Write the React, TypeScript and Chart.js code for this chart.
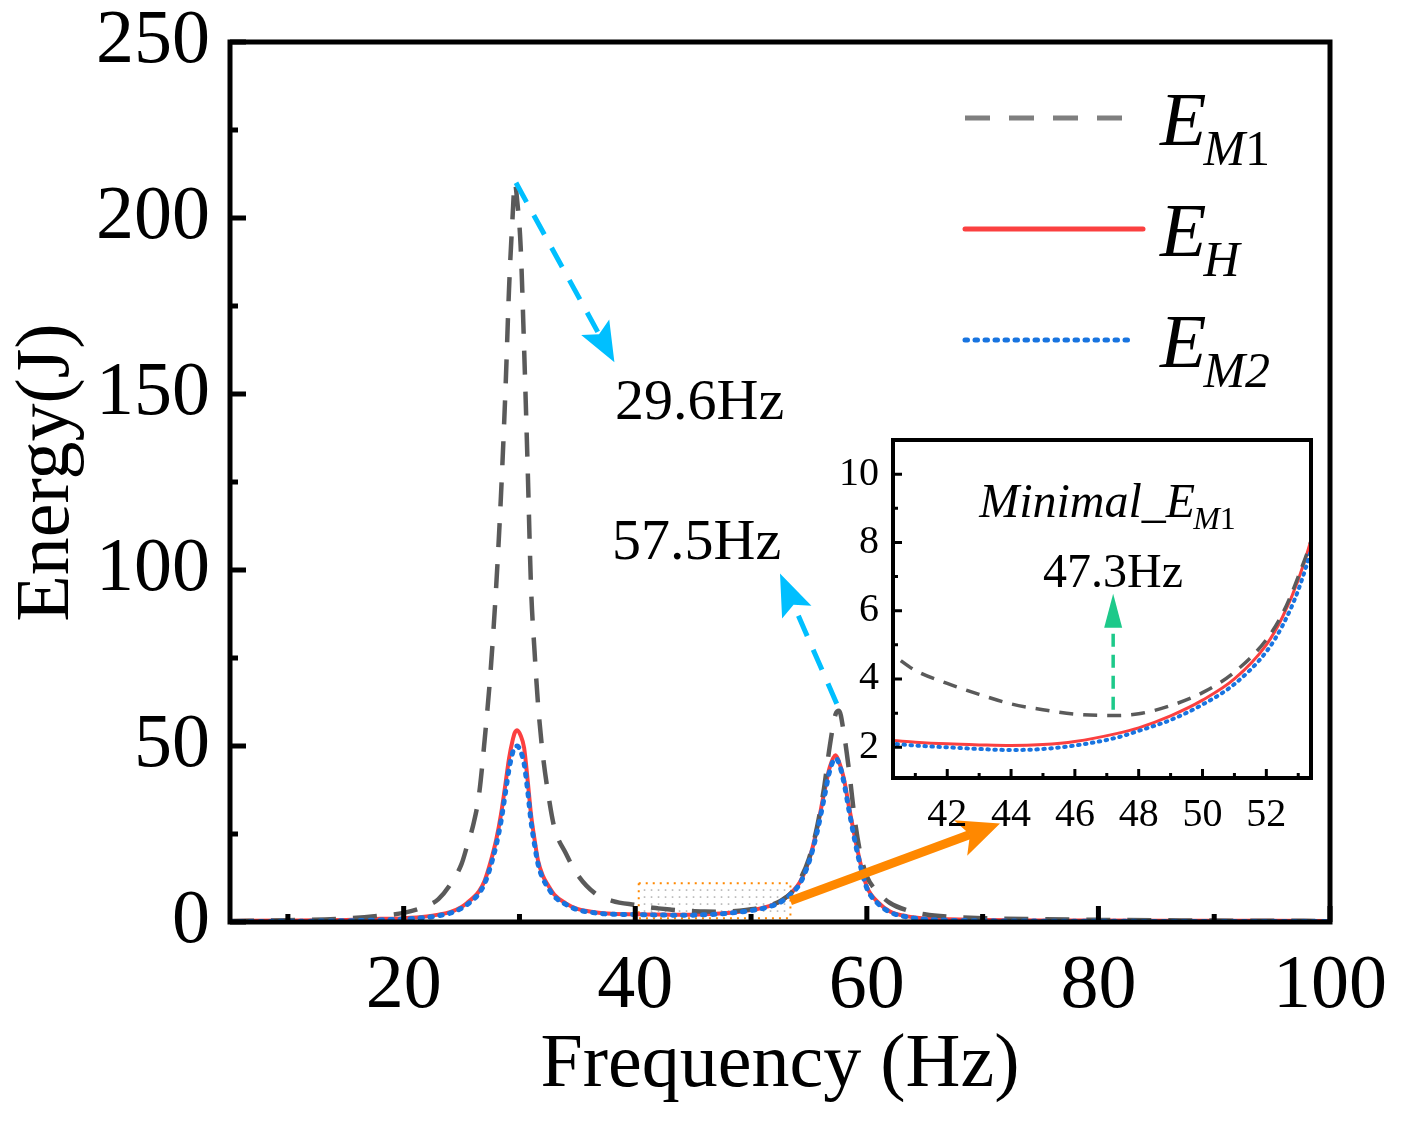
import React, { useEffect, useRef } from "react";
import { Chart, registerables } from "chart.js";

Chart.register(...registerables);

const SERIF = "'Liberation Serif', 'Times New Roman', serif";

// ---------------- data ----------------
const FREQ = [
  5, 10, 15, 18, 20,
  22, 23, 24, 25, 25.5,
  26, 26.5, 27, 27.5, 28,
  28.4, 28.8, 29.1, 29.4, 29.6,
  29.8, 30.1, 30.4, 30.7, 31.0,
  31.3, 31.6, 32, 32.5, 33,
  34, 35, 36.5, 38, 40.3,
  41, 42, 43, 44, 45,
  46, 47.3, 48, 49, 50,
  51, 52, 52.5, 53, 53.5,
  54.2, 55, 55.7, 56.3, 56.8,
  57.3, 57.6, 58, 58.5, 59,
  59.5, 60, 61, 62, 63.5,
  65, 67, 70, 75, 80,
  90, 100,
];

const E_M1 = [
  0.3, 0.5, 1.0, 1.8, 2.6,
  4.6, 6.5, 10.5, 16.5, 21.9,
  27.5, 36, 52, 71, 96,
  121, 152, 180, 200, 210,
  205, 192, 163, 130, 95,
  77, 62, 48, 36, 27,
  19.5, 13.5, 8.2, 6.0, 4.7,
  4.25, 3.87, 3.55, 3.27, 3.1,
  2.97, 2.93, 2.98, 3.22, 3.6,
  4.2, 5.15, 5.9, 7.0, 8.4,
  11.9, 18, 27, 38, 50,
  59, 60, 54, 42, 28,
  18.6, 13, 8.3, 5.4, 3.3,
  2.2, 1.5, 1.1, 0.8, 0.6,
  0.4, 0.3,
];

const E_H = [
  0.3, 0.4, 0.6, 0.9, 1.1,
  1.6, 2.1, 2.8, 4.3, 5.5,
  6.9, 8.7, 11.8, 17, 23.5,
  30.5, 39.5, 46.5, 51.5, 53.8,
  54.5, 53, 49.5, 40.5, 30.5,
  23.5, 17.5, 13.3, 10.3, 7.8,
  5.3, 3.7, 2.8, 2.35, 2.2,
  2.15, 2.1, 2.07, 2.05, 2.08,
  2.17, 2.4, 2.57, 2.92, 3.38,
  4.0, 5.0, 5.8, 6.9, 8.4,
  11.2, 17.5, 26.5, 36.5, 44,
  47.4, 45.5, 41, 32, 23.5,
  16, 10, 5.5, 3.0, 1.6,
  1.0, 0.75, 0.6, 0.45, 0.4,
  0.35, 0.3,
];

const E_M2 = [
  0.15, 0.2, 0.35, 0.6, 0.85,
  1.3, 1.8, 2.5, 3.9, 5.0,
  6.3, 8.1, 11.0, 15.8, 22,
  28.5, 37, 43.5, 48, 49.8,
  50, 48.5, 45, 37.5, 28.5,
  22, 16.5, 12.5, 9.6, 7.3,
  5.0, 3.5, 2.6, 2.2, 2.1,
  2.05, 2.0, 1.95, 1.92, 1.95,
  2.05, 2.28, 2.48, 2.8, 3.25,
  3.85, 4.8, 5.55, 6.6, 8.1,
  10.8, 17, 25.5, 35, 43,
  46.5, 45, 40, 31, 22.5,
  15.2, 9.6, 5.1, 2.8, 1.4,
  0.8, 0.5, 0.35, 0.25, 0.2,
  0.15, 0.15,
];

const MAIN_X_TICKS = [20, 40, 60, 80, 100];
const MAIN_X_MINOR = [10, 30, 50, 70, 90];
const MAIN_Y_TICKS = [0, 50, 100, 150, 200, 250];
const MAIN_Y_MINOR = [25, 75, 125, 175, 225];

const INSET_X_TICKS = [42, 44, 46, 48, 50, 52];
const INSET_X_MINOR = [41, 43, 45, 47, 49, 51, 53];
const INSET_Y_TICKS = [2, 4, 6, 8, 10];
const INSET_Y_MINOR = [3, 5, 7, 9];

const INSET_X_RANGE = [40.3, 53.4];
const INSET_Y_RANGE = [1.1, 11];

const X_TITLE = "Frequency (Hz)";
const Y_TITLE = "\u00a0Energy(J)";
const PEAK_LABELS = ["29.6Hz", "57.5Hz"];
const MIN_TITLE = "Minimal_E";
const MIN_LABEL = "47.3Hz";

// annotation anchors (data units)
const PEAK1_ARROW = { from: { x: 29.7, y: 210 }, to: { x: 38.2, y: 159 } };
const PEAK2_ARROW = { from: { x: 57.4, y: 62 }, to: { x: 52.5, y: 99 } };
const PEAK1_TEXT = { x: 38.25, y: 143 };
const PEAK2_TEXT = { x: 38.0, y: 103 };
const ZOOM_ARROW = { from: { x: 53.4, y: 6 }, to: { x: 71.5, y: 28 } };
const MIN_ARROW = { from: { x: 47.2, y: 3.1 }, to: { x: 47.2, y: 6.5 } };
const MIN_TITLE_POS = { x: 43.0, y: 8.74 };
const MIN_LABEL_POS = { x: 45.0, y: 6.69 };

// ---------------- styles ----------------
const GRAY = "#5a5a5a";
const GRAY_LEG = "#7f7f7f";
const RED = "#fb4040";
const BLUE = "#1874e0";
const CYAN = "#00bfff";
const ORANGE = "#ff8800";
const GREEN = "#1dc98a";

const pts = (arr: number[]) => FREQ.map((f, i) => ({ x: f, y: arr[i] }));

function drawArrow(ctx: any, x1: number, y1: number, x2: number, y2: number, o: any) {
  const ang = Math.atan2(y2 - y1, x2 - x1);
  const c = Math.cos(ang), s = Math.sin(ang);
  const bx = x2 - o.headLen * c, by = y2 - o.headLen * s;
  const n = o.notch || 0;
  ctx.save();
  ctx.strokeStyle = o.color;
  ctx.lineWidth = o.width;
  ctx.setLineDash(o.dash || []);
  ctx.lineCap = "butt";
  ctx.beginPath();
  ctx.moveTo(x1, y1);
  ctx.lineTo(bx + n * c, by + n * s);
  ctx.stroke();
  ctx.setLineDash([]);
  const px = -s, py = c;
  const hw = o.headWidth / 2;
  ctx.fillStyle = o.color;
  ctx.beginPath();
  ctx.moveTo(x2, y2);
  ctx.lineTo(bx + px * hw, by + py * hw);
  ctx.lineTo(bx + n * c, by + n * s);
  ctx.lineTo(bx - px * hw, by - py * hw);
  ctx.closePath();
  ctx.fill();
  ctx.restore();
}

function drawSubText(ctx: any, x: number, y: number, main: string, sub: any[], mainSize: number, subSize: number, subDrop: number) {
  ctx.save();
  ctx.fillStyle = "#000";
  ctx.textBaseline = "alphabetic";
  ctx.textAlign = "left";
  ctx.font = `italic ${mainSize}px ${SERIF}`;
  ctx.fillText(main, x, y);
  let cx = x + ctx.measureText(main).width - mainSize * 0.04;
  for (const p of sub) {
    ctx.font = `${p.it ? "italic " : ""}${subSize}px ${SERIF}`;
    ctx.fillText(p.t, cx, y + subDrop);
    cx += ctx.measureText(p.t).width;
  }
  ctx.restore();
}

const LEGEND_ITEMS = [
  { main: "E", sub: [{ t: "M", it: true }, { t: "1", it: false }], color: GRAY_LEG, width: 5, dash: [25, 19], cap: "butt", len: 157 },
  { main: "E", sub: [{ t: "H", it: true }], color: RED, width: 5, dash: [], cap: "round", len: 178 },
  { main: "E", sub: [{ t: "M2", it: true }], color: BLUE, width: 5, dash: [2.5, 7.5], cap: "round", len: 170 },
];

const mainDecor = {
  id: "mainDecor",
  beforeDatasetsDraw(chart: any) {
    const { ctx, scales } = chart;
    const x = scales.x, y = scales.y;
    const x0 = x.getPixelForValue(INSET_X_RANGE[0]);
    const x1 = x.getPixelForValue(INSET_X_RANGE[1]);
    const yb = y.getPixelForValue(INSET_Y_RANGE[0]);
    const yt = y.getPixelForValue(INSET_Y_RANGE[1]);
    ctx.save();
    ctx.fillStyle = "#b5b5b5";
    for (let px = x0 + 5; px < x1 - 3; px += 7) {
      for (let py = yt + 6; py < yb - 1; py += 7) ctx.fillRect(px, py, 1.6, 1.6);
    }
    ctx.strokeStyle = ORANGE;
    ctx.lineWidth = 2;
    ctx.setLineDash([2, 5]);
    ctx.strokeRect(x0, yt, x1 - x0, yb - yt);
    ctx.restore();
  },
  afterDraw(chart: any) {
    const { ctx, chartArea: a, scales } = chart;
    const x = scales.x, y = scales.y;
    ctx.save();
    ctx.strokeStyle = "#000";
    ctx.lineWidth = 5;
    ctx.strokeRect(a.left, a.top, a.right - a.left, a.bottom - a.top);
    ctx.beginPath();
    for (const v of MAIN_Y_TICKS) { const p = y.getPixelForValue(v); ctx.moveTo(a.left, p); ctx.lineTo(a.left + 16, p); }
    for (const v of MAIN_Y_MINOR) { const p = y.getPixelForValue(v); ctx.moveTo(a.left, p); ctx.lineTo(a.left + 8, p); }
    for (const v of MAIN_X_TICKS) { const p = x.getPixelForValue(v); ctx.moveTo(p, a.bottom); ctx.lineTo(p, a.bottom - 16); }
    for (const v of MAIN_X_MINOR) { const p = x.getPixelForValue(v); ctx.moveTo(p, a.bottom); ctx.lineTo(p, a.bottom - 8); }
    ctx.stroke();
    ctx.restore();

    const P = (d: any) => [x.getPixelForValue(d.x), y.getPixelForValue(d.y)];
    const [a1x, a1y] = P(PEAK1_ARROW.from), [b1x, b1y] = P(PEAK1_ARROW.to);
    drawArrow(ctx, a1x, a1y, b1x, b1y, { color: CYAN, width: 5, dash: [22, 15], headLen: 40, headWidth: 32, notch: 8 });
    const [a2x, a2y] = P(PEAK2_ARROW.from), [b2x, b2y] = P(PEAK2_ARROW.to);
    drawArrow(ctx, a2x, a2y, b2x, b2y, { color: CYAN, width: 5, dash: [22, 15], headLen: 42, headWidth: 32, notch: 8 });
    const [a3x, a3y] = P(ZOOM_ARROW.from), [b3x, b3y] = P(ZOOM_ARROW.to);
    drawArrow(ctx, a3x, a3y, b3x, b3y, { color: ORANGE, width: 9, dash: [], headLen: 42, headWidth: 38, notch: 10 });

    ctx.save();
    ctx.fillStyle = "#000";
    ctx.font = `58px ${SERIF}`;
    ctx.textAlign = "left";
    ctx.textBaseline = "alphabetic";
    const [t1x, t1y] = P(PEAK1_TEXT);
    ctx.fillText(PEAK_LABELS[0], t1x, t1y);
    const [t2x, t2y] = P(PEAK2_TEXT);
    ctx.fillText(PEAK_LABELS[1], t2x, t2y);
    ctx.restore();

    const LX = 965, TX = 1160, rows = [118, 229, 340];
    LEGEND_ITEMS.forEach((it, i) => {
      const ly = rows[i];
      ctx.save();
      ctx.strokeStyle = it.color;
      ctx.lineWidth = it.width;
      ctx.lineCap = it.cap;
      ctx.setLineDash(it.dash);
      ctx.beginPath();
      ctx.moveTo(LX, ly);
      ctx.lineTo(LX + it.len, ly);
      ctx.stroke();
      ctx.restore();
      drawSubText(ctx, TX, ly + 27, it.main, it.sub, 76, 50, 20);
    });
  },
};

const insetDecor = {
  id: "insetDecor",
  beforeDraw(chart: any) {
    const { ctx, chartArea: a } = chart;
    ctx.save();
    ctx.fillStyle = "#fff";
    ctx.fillRect(a.left, a.top, a.right - a.left, a.bottom - a.top);
    ctx.restore();
  },
  afterDraw(chart: any) {
    const { ctx, chartArea: a, scales } = chart;
    const x = scales.x, y = scales.y;
    ctx.save();
    ctx.strokeStyle = "#000";
    ctx.lineWidth = 4;
    ctx.strokeRect(a.left, a.top, a.right - a.left, a.bottom - a.top);
    ctx.lineWidth = 3;
    ctx.beginPath();
    for (const v of INSET_Y_TICKS) { const p = y.getPixelForValue(v); ctx.moveTo(a.left, p); ctx.lineTo(a.left + 9, p); }
    for (const v of INSET_Y_MINOR) { const p = y.getPixelForValue(v); ctx.moveTo(a.left, p); ctx.lineTo(a.left + 5, p); }
    for (const v of INSET_X_TICKS) { const p = x.getPixelForValue(v); ctx.moveTo(p, a.bottom); ctx.lineTo(p, a.bottom - 9); }
    for (const v of INSET_X_MINOR) { const p = x.getPixelForValue(v); ctx.moveTo(p, a.bottom); ctx.lineTo(p, a.bottom - 5); }
    ctx.stroke();
    ctx.restore();

    const P = (d: any) => [x.getPixelForValue(d.x), y.getPixelForValue(d.y)];
    const [ax, ay] = P(MIN_ARROW.from), [bx, by] = P(MIN_ARROW.to);
    drawArrow(ctx, ax, ay, bx, by, { color: GREEN, width: 3.5, dash: [13, 8], headLen: 34, headWidth: 18, notch: 0 });

    const [tx, ty] = P(MIN_TITLE_POS);
    drawSubText(ctx, tx, ty, MIN_TITLE, [{ t: "M", it: true }, { t: "1", it: false }], 48, 32, 12);
    const [lx, ly] = P(MIN_LABEL_POS);
    ctx.save();
    ctx.fillStyle = "#000";
    ctx.font = `48px ${SERIF}`;
    ctx.textAlign = "left";
    ctx.textBaseline = "alphabetic";
    ctx.fillText(MIN_LABEL, lx, ly);
    ctx.restore();
  },
};

export default function App() {
  const mainRef = useRef<HTMLCanvasElement | null>(null);
  const insetRef = useRef<HTMLCanvasElement | null>(null);

  useEffect(() => {
    const main = new Chart(mainRef.current as any, {
      type: "line",
      data: {
        datasets: [
          {
            label: "E_M2", data: pts(E_M2), borderColor: BLUE, borderWidth: 5,
            borderDash: [2.5, 7.5], borderCapStyle: "round", pointRadius: 0,
            cubicInterpolationMode: "monotone", fill: false, order: 1,
          },
          {
            label: "E_M1", data: pts(E_M1), borderColor: GRAY, borderWidth: 4.5,
            borderDash: [24, 17], pointRadius: 0,
            cubicInterpolationMode: "monotone", fill: false, order: 2,
          },
          {
            label: "E_H", data: pts(E_H), borderColor: RED, borderWidth: 4,
            pointRadius: 0, cubicInterpolationMode: "monotone", fill: false, order: 3,
          },
        ] as any,
      },
      options: {
        responsive: false,
        animation: false,
        devicePixelRatio: 1,
        layout: { padding: { left: 0, top: 42, right: 74, bottom: 0 } },
        plugins: { legend: { display: false }, tooltip: { enabled: false }, title: { display: false } },
        scales: {
          x: {
            type: "linear", min: 5, max: 100, position: "bottom",
            grid: { display: false }, border: { display: false },
            afterBuildTicks: (s: any) => { s.ticks = MAIN_X_TICKS.map((v) => ({ value: v })); },
            afterFit: (s: any) => { s.height = 203; s.paddingLeft = 0; s.paddingRight = 0; },
            ticks: { font: { family: SERIF, size: 76, lineHeight: 1 }, color: "#000", padding: 19, maxRotation: 0, autoSkip: false },
            title: { display: true, text: X_TITLE, color: "#000", font: { family: SERIF, size: 76 }, padding: { top: 0, bottom: 13 } },
          },
          y: {
            type: "linear", min: 0, max: 250,
            grid: { display: false }, border: { display: false },
            afterBuildTicks: (s: any) => { s.ticks = MAIN_Y_TICKS.map((v) => ({ value: v })); },
            afterFit: (s: any) => { s.width = 230; s.paddingTop = 0; s.paddingBottom = 0; },
            ticks: { font: { family: SERIF, size: 76, lineHeight: 1 }, color: "#000", padding: 12 },
            title: { display: true, text: Y_TITLE, color: "#000", font: { family: SERIF, size: 76 }, padding: { top: 2, bottom: 0 } },
          },
        },
      } as any,
      plugins: [mainDecor as any],
    });

    const inset = new Chart(insetRef.current as any, {
      type: "line",
      data: {
        datasets: [
          {
            label: "E_M2", data: pts(E_M2), borderColor: BLUE, borderWidth: 4,
            borderDash: [1.5, 5.5], borderCapStyle: "round", pointRadius: 0,
            cubicInterpolationMode: "monotone", fill: false, order: 1,
          },
          {
            label: "E_M1", data: pts(E_M1), borderColor: GRAY, borderWidth: 3.5,
            borderDash: [14, 10], pointRadius: 0,
            cubicInterpolationMode: "monotone", fill: false, order: 2,
          },
          {
            label: "E_H", data: pts(E_H), borderColor: RED, borderWidth: 3,
            pointRadius: 0, cubicInterpolationMode: "monotone", fill: false, order: 3,
          },
        ] as any,
      },
      options: {
        responsive: false,
        animation: false,
        devicePixelRatio: 1,
        layout: { padding: { left: 0, top: 30, right: 29, bottom: 0 } },
        plugins: { legend: { display: false }, tooltip: { enabled: false }, title: { display: false } },
        scales: {
          x: {
            type: "linear", min: INSET_X_RANGE[0], max: INSET_X_RANGE[1], position: "bottom",
            grid: { display: false }, border: { display: false },
            afterBuildTicks: (s: any) => { s.ticks = INSET_X_TICKS.map((v) => ({ value: v })); },
            afterFit: (s: any) => { s.height = 72; s.paddingLeft = 0; s.paddingRight = 0; },
            ticks: { font: { family: SERIF, size: 40, lineHeight: 1 }, color: "#000", padding: 9, maxRotation: 0, autoSkip: false },
          },
          y: {
            type: "linear", min: INSET_Y_RANGE[0], max: INSET_Y_RANGE[1],
            grid: { display: false }, border: { display: false },
            afterBuildTicks: (s: any) => { s.ticks = INSET_Y_TICKS.map((v) => ({ value: v })); },
            afterFit: (s: any) => { s.width = 73; s.paddingTop = 0; s.paddingBottom = 0; },
            ticks: { font: { family: SERIF, size: 40, lineHeight: 1 }, color: "#000", padding: 6 },
          },
        },
      } as any,
      plugins: [insetDecor as any],
    });

    return () => {
      main.destroy();
      inset.destroy();
    };
  }, []);

  return (
    <div style={{ position: "absolute", left: 0, top: 0, width: 1404, height: 1125, background: "#fff", overflow: "hidden" }}>
      <canvas ref={mainRef} width={1404} height={1125} style={{ position: "absolute", left: 0, top: 0, display: "block" }} />
      <canvas ref={insetRef} width={520} height={440} style={{ position: "absolute", left: 820, top: 410, display: "block" }} />
    </div>
  );
}
